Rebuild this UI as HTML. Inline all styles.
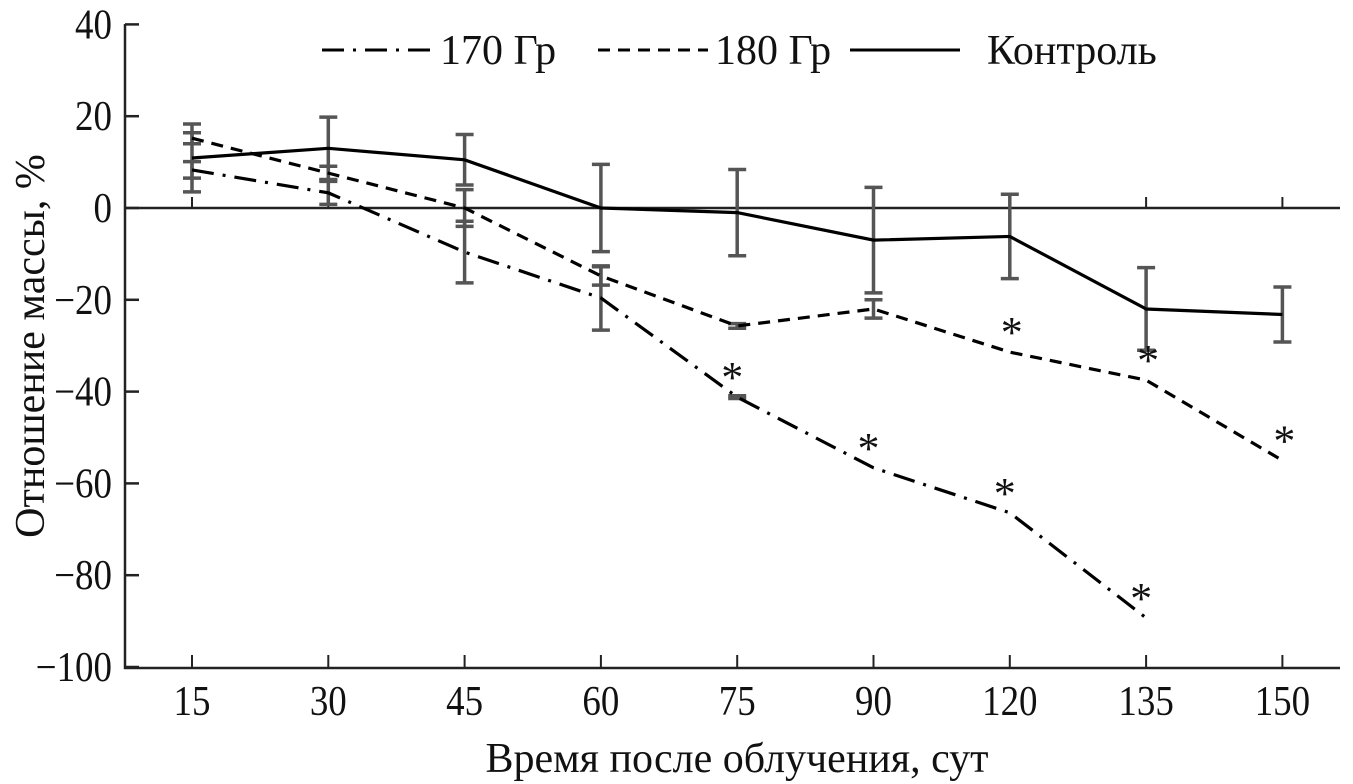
<!DOCTYPE html>
<html><head><meta charset="utf-8"><style>
body{margin:0;background:#fff}
svg{display:block;font-family:"Liberation Serif",serif}
</style></head><body>
<svg id="c" width="1353" height="784"></svg>
<script>
const categories=["15","30","45","60","75","90","120","135","150"];
const control=[10.9,13,10.5,0,-1,-7,-6.2,-22,-23.2];
const controlErr=[7.4,6.8,5.5,9.5,9.4,11.5,9.2,9,6];
const gy180=[15.2,7.6,0,-14.8,-25.7,-22,-31.4,-37.5,-55];
const gy180Err=[1.2,1.5,4,2,0.5,2,0,0,0];
const gy170=[8.3,3.3,-9.6,-19.6,-41.2,-56.6,-66.4,-89.3];
const gy170Err=[1.8,2.5,6.7,7,0.3,0,0,0];
const yTicks=[40,20,0,-20,-40,-60,-80,-100];
const star170=[4,5,6,7];
const star180=[6,7,8];
const NS="http://www.w3.org/2000/svg";
const svg=document.getElementById('c');
const X=i=>192+i*136.3;
const Y=v=>208-v*4.59;
function el(t,a,p){const e=document.createElementNS(NS,t);for(const k in a)e.setAttribute(k,a[k]);(p||svg).appendChild(e);return e;}
const ax=el('path',{d:`M125 24V668H1340`,stroke:'#222','stroke-width':2.5,fill:'none'});


const zl=el('line',{x1:125,x2:1340,y1:Y(0),y2:Y(0),stroke:'#222','stroke-width':2.5});


yTicks.forEach(v=>{
  el('line',{x1:125,x2:139,y1:Y(v),y2:Y(v),stroke:'#222','stroke-width':2.5});
  const t=el('text',{transform:`translate(112,${Y(v)+14}) scale(0.88,1)`,'text-anchor':'end','font-size':42,fill:'#111'});
  t.textContent=v<0?'\u2212'+(-v):v;
  
  
});
categories.forEach((c,i)=>{
  el('line',{x1:X(i),x2:X(i),y1:Y(0),y2:Y(0)-11,stroke:'#222','stroke-width':2});
  el('line',{x1:X(i),x2:X(i),y1:668,y2:655,stroke:'#222','stroke-width':2});
  const t=el('text',{transform:`translate(${X(i)},715) scale(0.88,1)`,'text-anchor':'middle','font-size':42,fill:'#111'});
  t.textContent=c;
  
  
});
function errs(vals,er,name){
  vals.forEach((v,i)=>{if(!er[i])return;
    const g=el('g',{stroke:'#555','stroke-width':3.5});
    
    
    el('line',{x1:X(i),x2:X(i),y1:Y(v+er[i]),y2:Y(v-er[i])},g);
    el('line',{x1:X(i)-9,x2:X(i)+9,y1:Y(v+er[i]),y2:Y(v+er[i])},g);
    el('line',{x1:X(i)-9,x2:X(i)+9,y1:Y(v-er[i]),y2:Y(v-er[i])},g);
  });
}
errs(control,controlErr,'control');errs(gy180,gy180Err,'gy180');errs(gy170,gy170Err,'gy170');
function line(vals,dash,name){
  const p=el('polyline',{points:vals.map((v,i)=>X(i)+','+Y(v)).join(' '),fill:'none',stroke:'#000','stroke-width':3.2,'stroke-dasharray':dash});
  
  
}
line(control,'none','control-line');
line(gy180,'12 8','gy180-line');
line(gy170,'22 9 3 9','gy170-line');
star170.forEach(i=>{const t=el('text',{x:X(i)-5,y:Y(gy170[i])-5,'text-anchor':'middle','font-size':44,fill:'#111'});t.textContent='*';

});
star180.forEach(i=>{const t=el('text',{x:X(i)+2,y:Y(gy180[i])-5,'text-anchor':'middle','font-size':44,fill:'#111'});t.textContent='*';

});
const lg=el('g',{});


[[322,'22 9 3 9','170 Гр',440],[598,'12 8','180 Гр',715],[850,'none','Контроль',987]].forEach(([x,d,l,tx])=>{
  el('line',{x1:x,x2:x+110,y1:50,y2:50,stroke:'#000','stroke-width':3,'stroke-dasharray':d},lg);
  const t=el('text',{x:tx,y:64,'font-size':42,fill:'#111'},lg);t.textContent=l;
  
  
});
const xt=el('text',{x:737,y:772,'text-anchor':'middle','font-size':42,fill:'#111'});xt.textContent='Время после облучения, сут';


const yt=el('text',{x:0,y:0,'text-anchor':'middle','font-size':42,fill:'#111',transform:'translate(44,346) rotate(-90)'});yt.textContent='Отношение массы, %';


</script>
</body></html>
